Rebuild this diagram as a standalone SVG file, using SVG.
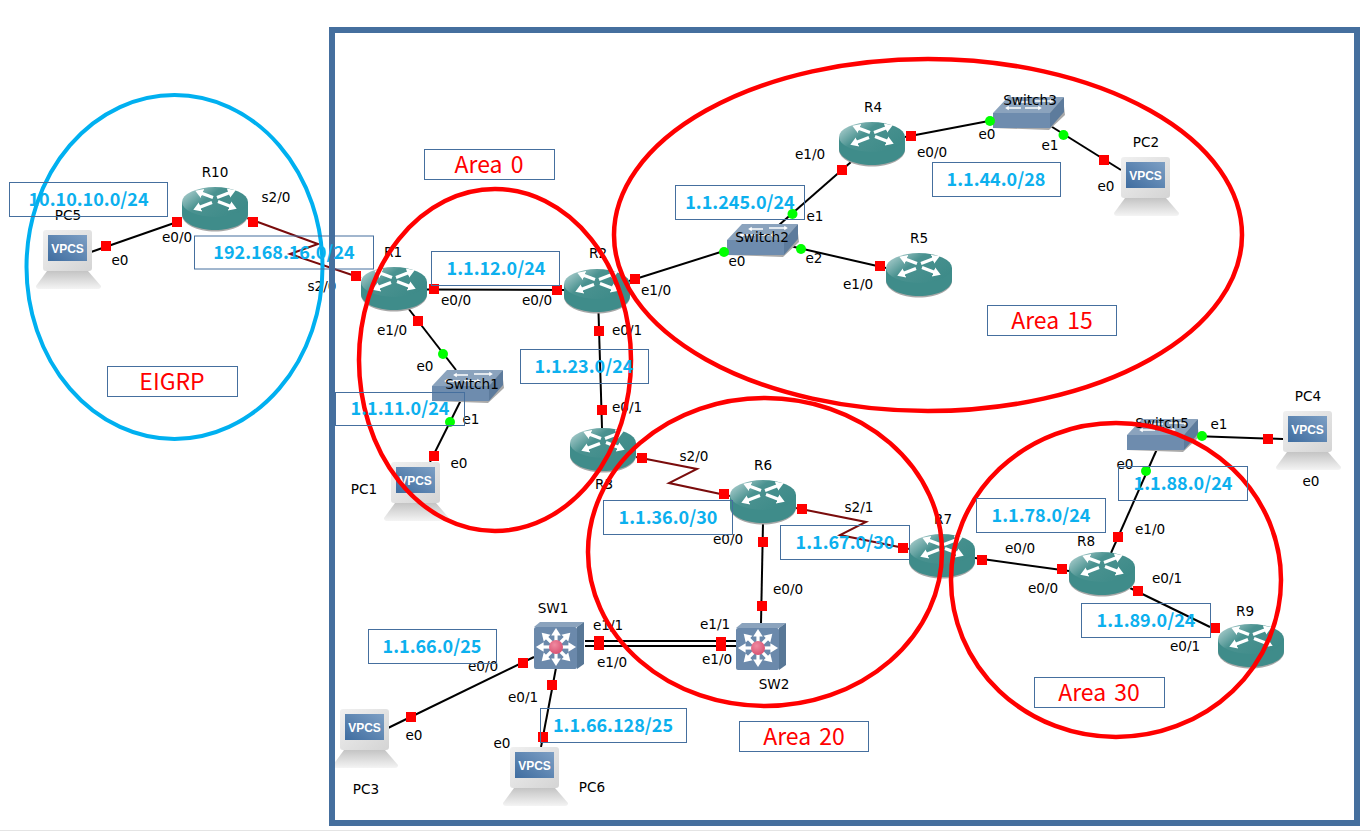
<svg xmlns="http://www.w3.org/2000/svg" width="1371" height="832" viewBox="0 0 1371 832">
<style>
text{font-family:"DejaVu Sans","Liberation Sans",sans-serif;font-size:13.6px;fill:#000;text-anchor:middle}
.lk{fill:none;stroke:#000;stroke-width:2}
.sr{fill:none;stroke:#7a0c0c;stroke-width:2}
.p{fill:#f00;stroke:none}
.g{fill:#0f0;stroke:none}
.area{fill:none;stroke:#f00;stroke-width:4.500}
.box{fill:none;stroke:#456f9e;stroke-width:1}
.net{font-family:"Noto Sans CJK KR","Noto Sans",sans-serif;font-size:18px;font-weight:700;fill:#0cb0ee}
.ttl{font-family:"Noto Sans CJK KR","Noto Sans",sans-serif;font-size:23px;word-spacing:3px;fill:#f00}
.vp{font-family:"Liberation Sans",sans-serif;font-weight:700;font-size:12px;fill:#fff}
.wa{fill:none;stroke:#fff;stroke-width:3.200}
.wt{fill:none;stroke:#fff;stroke-width:1.500}
</style>
<defs>
<linearGradient id="rt" x1="0" y1="0" x2="1" y2="0.6"><stop offset="0" stop-color="#c2dcdc"/><stop offset="0.45" stop-color="#4a9290"/><stop offset="1" stop-color="#3e8b89"/></linearGradient>
<linearGradient id="scr" x1="0" y1="1" x2="1" y2="0"><stop offset="0" stop-color="#3f6da0"/><stop offset="1" stop-color="#7d9fc4"/></linearGradient>
<linearGradient id="bs" x1="0" y1="0" x2="0" y2="1"><stop offset="0" stop-color="#c4c4c4"/><stop offset="1" stop-color="#f4f4f4"/></linearGradient>
<linearGradient id="mon" x1="0" y1="0" x2="1" y2="1"><stop offset="0" stop-color="#f0f0f0"/><stop offset="1" stop-color="#d4d4d4"/></linearGradient>
<radialGradient id="hub" cx="0.4" cy="0.35" r="0.7"><stop offset="0" stop-color="#f08aa0"/><stop offset="1" stop-color="#d84f70"/></radialGradient>
<marker id="ah" markerWidth="4" markerHeight="4" refX="0.500" refY="2" orient="auto" markerUnits="strokeWidth"><path d="M0 0.500L2.400 2L0 3.500z" fill="#fff"/></marker>
<symbol id="router" width="66" height="44" viewBox="0 0 66 44" overflow="visible">
<path d="M0 15V28C0 37 15 44.500 33 44.500S66 37 66 28V15z" fill="#a8a8a8"/>
<path d="M0 15V27C0 36 15 43 33 43S66 36 66 27V15z" fill="#3f8c8a"/>
<ellipse cx="33" cy="15" rx="33" ry="15" fill="url(#rt)"/>
<path class="wa" marker-end="url(#ah)" d="M31 10.500L19 6"/>
<path class="wa" marker-end="url(#ah)" d="M35 10.500L48 5.500"/>
<path class="wa" marker-end="url(#ah)" d="M30 15.500L17 20.500"/>
<path class="wa" marker-end="url(#ah)" d="M36 14.500L49 19.500"/>
</symbol>
<symbol id="switch" width="72" height="33" viewBox="0 0 72 33" overflow="visible">
<path d="M0 17L0 31L56 33L72 18L70 1z" fill="#a9a9a9"/>
<path d="M0 16L15 0H71L57 16z" fill="#8ba3bd"/>
<path d="M0 16H57V31H0z" fill="#6e8cae"/>
<path d="M57 16L71 0V15L57 31z" fill="#5d7b9c"/>
<path class="wt" marker-end="url(#ah)" d="M36 5H24"/><path class="wt" marker-end="url(#ah)" d="M42 4H58"/>
<path class="wt" marker-end="url(#ah)" d="M28 11H15"/><path class="wt" marker-end="url(#ah)" d="M32 11H46"/>
</symbol>
<symbol id="mls" width="51" height="48" viewBox="0 0 51 48" overflow="visible">
<path d="M0 5L6 0H50L43 5z" fill="#8ba3bd"/>
<path d="M43 5L50 0V42L43 47z" fill="#587796"/>
<rect x="0" y="5" width="43" height="42" rx="2" fill="#6b89ab"/>
<path class="wa" marker-end="url(#ah)" d="M22 25V12"/><path class="wa" marker-end="url(#ah)" d="M22 25V38"/>
<path class="wa" marker-end="url(#ah)" d="M22 25H8"/><path class="wa" marker-end="url(#ah)" d="M22 25H36"/>
<path class="wa" marker-end="url(#ah)" d="M22 25L12 15"/><path class="wa" marker-end="url(#ah)" d="M22 25L32 15"/>
<path class="wa" marker-end="url(#ah)" d="M22 25L12 35"/><path class="wa" marker-end="url(#ah)" d="M22 25L32 35"/>
<circle cx="22" cy="25" r="7" fill="url(#hub)"/>
</symbol>
<symbol id="vpcs" width="65" height="59" viewBox="0 0 65 59" overflow="visible">
<path d="M11 41H52L65 56Q65 59 62 59H3Q0 59 0 56z" fill="url(#bs)"/>
<rect x="7" y="0" width="49" height="41" rx="3" fill="url(#mon)"/>
<rect x="12" y="5" width="39" height="26" fill="url(#scr)"/>
<text class="vp" x="31.500" y="23">VPCS</text>
</symbol>
</defs>
<rect width="1371" height="832" fill="#fff"/>
<path d="M0 830.500H1371" stroke="#e4e4e4"/>

<g id="connectors">
<path class="lk" d="M91 252L180 221"/>
<path class="sr" d="M247 218L318 244L290 254L361 278"/>
<path class="lk" d="M427 289.500L564 290"/>
<path class="lk" d="M408 308L456 370"/>
<path class="lk" d="M461 400L430 462"/>
<path class="lk" d="M598.500 312L602 428"/>
<path class="lk" d="M629 281L727 250"/>
<path class="lk" d="M779 225L851 162"/>
<path class="lk" d="M790 246L886 268"/>
<path class="lk" d="M905 137L994 120"/>
<path class="lk" d="M1049 125L1121 170"/>
<path class="sr" d="M636 457L697 469L669 483L730 496"/>
<path class="sr" d="M796 508L866 522L840 535L909 549"/>
<path class="lk" d="M763 523L761 623"/>
<path class="lk" d="M585 641H736M585 646H736"/>
<path class="lk" d="M534 657L388 728"/>
<path class="lk" d="M556 668L541 747"/>
<path class="lk" d="M975 558L1069 571"/>
<path class="lk" d="M1111 553L1157 449"/>
<path class="lk" d="M1130 588L1210 627"/>
<path class="lk" d="M1193 436L1283 439"/>
</g>

<g id="R10"><use href="#router" x="182" y="187"/><text x="215" y="177">R10</text></g>
<g id="R1"><use href="#router" x="361" y="267"/><text x="393" y="257">R1</text></g>
<g id="R2"><use href="#router" x="564" y="269"/><text x="598" y="258">R2</text></g>
<g id="R3"><use href="#router" x="570" y="428"/><text x="604" y="489">R3</text></g>
<g id="R4"><use href="#router" x="839" y="122"/><text x="873" y="112">R4</text></g>
<g id="R5"><use href="#router" x="886" y="253"/><text x="919" y="243">R5</text></g>
<g id="R6"><use href="#router" x="730" y="480"/><text x="763" y="470">R6</text></g>
<g id="R7"><use href="#router" x="909" y="534"/><text x="943" y="524">R7</text></g>
<g id="R8"><use href="#router" x="1069" y="552"/><text x="1086" y="546">R8</text></g>
<g id="R9"><use href="#router" x="1218" y="624"/><text x="1245" y="616">R9</text></g>
<g id="Switch1"><use href="#switch" x="432" y="370"/><text x="472" y="389">Switch1</text></g>
<g id="Switch2"><use href="#switch" x="727" y="224"/><text x="762" y="242">Switch2</text></g>
<g id="Switch3"><use href="#switch" x="993" y="97"/><text x="1030" y="105">Switch3</text></g>
<g id="Switch5"><use href="#switch" x="1127" y="419"/><text x="1162" y="428">Switch5</text></g>
<g id="SW1"><use href="#mls" x="534" y="622"/><text x="553" y="613">SW1</text></g>
<g id="SW2"><use href="#mls" x="736" y="623"/><text x="774" y="689">SW2</text></g>
<g id="PC1"><use href="#vpcs" x="384" y="462"/><text x="364" y="494">PC1</text></g>
<g id="PC2"><use href="#vpcs" x="1114" y="157"/><text x="1146" y="147">PC2</text></g>
<g id="PC3"><use href="#vpcs" x="333" y="709"/><text x="366" y="794">PC3</text></g>
<g id="PC4"><use href="#vpcs" x="1276" y="411"/><text x="1308" y="401">PC4</text></g>
<g id="PC5"><use href="#vpcs" x="36" y="230"/><text x="68" y="220">PC5</text></g>
<g id="PC6"><use href="#vpcs" x="503" y="747"/><text x="592" y="792">PC6</text></g>

<g id="ports">
<rect class="p" x="101" y="241" width="10" height="10"/><rect class="p" x="172" y="217" width="10" height="10"/>
<rect class="p" x="248" y="217" width="10" height="10"/><rect class="p" x="351" y="271" width="10" height="10"/>
<rect class="p" x="429" y="284" width="10" height="10"/><rect class="p" x="413" y="316" width="10" height="10"/>
<rect class="p" x="429" y="451" width="10" height="10"/><rect class="p" x="552" y="285" width="10" height="10"/>
<rect class="p" x="630" y="274" width="10" height="10"/><rect class="p" x="594" y="326" width="10" height="10"/>
<rect class="p" x="597" y="405" width="10" height="10"/><rect class="p" x="637" y="453" width="10" height="10"/>
<rect class="p" x="719" y="489" width="10" height="10"/><rect class="p" x="797" y="504" width="10" height="10"/>
<rect class="p" x="898" y="543" width="10" height="10"/><rect class="p" x="758" y="537" width="10" height="10"/>
<rect class="p" x="757" y="601" width="10" height="10"/><rect class="p" x="594" y="636" width="10" height="10"/>
<rect class="p" x="594" y="640" width="10" height="10"/><rect class="p" x="716" y="637" width="10" height="10"/>
<rect class="p" x="716" y="641" width="10" height="10"/><rect class="p" x="518" y="658" width="10" height="10"/>
<rect class="p" x="406" y="712" width="10" height="10"/><rect class="p" x="547" y="680" width="10" height="10"/>
<rect class="p" x="538" y="732" width="10" height="10"/><rect class="p" x="875" y="261" width="10" height="10"/>
<rect class="p" x="837" y="165" width="10" height="10"/><rect class="p" x="906" y="131" width="10" height="10"/>
<rect class="p" x="1099" y="155" width="10" height="10"/><rect class="p" x="977" y="555" width="10" height="10"/>
<rect class="p" x="1057" y="564" width="10" height="10"/><rect class="p" x="1113" y="532" width="10" height="10"/>
<rect class="p" x="1133" y="586" width="10" height="10"/><rect class="p" x="1210" y="623" width="10" height="10"/>
<rect class="p" x="1263" y="434" width="10" height="10"/>
<circle class="g" cx="443" cy="354" r="5"/><circle class="g" cx="450" cy="422" r="5"/>
<circle class="g" cx="724" cy="252" r="5"/><circle class="g" cx="792.500" cy="214" r="5"/>
<circle class="g" cx="801" cy="249" r="5"/><circle class="g" cx="990" cy="121" r="5"/>
<circle class="g" cx="1063.500" cy="135" r="5"/><circle class="g" cx="1146" cy="471" r="5"/>
<circle class="g" cx="1202" cy="436" r="5"/>
</g>

<g id="port-labels">
<text x="276" y="202">s2/0</text><text x="177" y="242">e0/0</text><text x="120" y="265">e0</text>
<text x="322" y="291">s2/0</text><text x="456" y="305">e0/0</text><text x="392" y="335">e1/0</text>
<text x="425" y="371">e0</text><text x="471" y="424">e1</text><text x="459" y="468">e0</text>
<text x="537" y="305">e0/0</text><text x="656" y="295">e1/0</text><text x="627" y="335">e0/1</text>
<text x="627" y="412">e0/1</text><text x="694" y="461">s2/0</text><text x="859" y="512">s2/1</text>
<text x="728" y="544">e0/0</text><text x="788" y="594">e0/0</text><text x="608" y="630">e1/1</text>
<text x="612" y="667">e1/0</text><text x="715" y="629">e1/1</text><text x="717" y="664">e1/0</text>
<text x="483" y="671">e0/0</text><text x="523" y="702">e0/1</text><text x="414" y="740">e0</text>
<text x="502" y="748">e0</text><text x="987" y="139">e0</text><text x="1050" y="150">e1</text>
<text x="1106" y="191">e0</text><text x="810" y="159">e1/0</text><text x="932" y="157">e0/0</text>
<text x="815" y="221">e1</text><text x="737" y="266">e0</text><text x="814" y="263">e2</text>
<text x="858" y="289">e1/0</text><text x="1219" y="429">e1</text><text x="1311" y="486">e0</text>
<text x="1125" y="469">e0</text><text x="1020" y="553">e0/0</text><text x="1150" y="534">e1/0</text>
<text x="1043" y="593">e0/0</text><text x="1167" y="583">e0/1</text><text x="1185" y="651">e0/1</text>
</g>

<g id="areas">
<ellipse cx="174.500" cy="267" rx="148" ry="172" fill="none" stroke="#00b0f0" stroke-width="4"/>
<ellipse class="area" cx="495" cy="360" rx="136" ry="171"/>
<ellipse class="area" cx="928" cy="235" rx="314" ry="176"/>
<ellipse class="area" cx="765" cy="552" rx="177" ry="154"/>
<ellipse class="area" cx="1116" cy="580" rx="165" ry="157"/>
</g>
<rect id="frame" x="332" y="30" width="1025" height="793" fill="none" stroke="#456f9e" stroke-width="6"/>

<g id="labels">
<rect class="box" x="9.500" y="182.500" width="158" height="34"/><text class="net" x="88.500" y="206">10.10.10.0/24</text>
<rect class="box" x="194.500" y="236" width="179" height="33"/><text class="net" x="284" y="259">192.168.16.0/24</text>
<rect class="box" x="431.500" y="251.500" width="128" height="34"/><text class="net" x="496" y="275">1.1.12.0/24</text>
<rect class="box" x="335.500" y="392.500" width="129" height="33"/><text class="net" x="400" y="415">1.1.11.0/24</text>
<rect class="box" x="520.500" y="349.500" width="128" height="34"/><text class="net" x="584" y="373">1.1.23.0/24</text>
<rect class="box" x="603.500" y="500.500" width="129" height="34"/><text class="net" x="668" y="524">1.1.36.0/30</text>
<rect class="box" x="780.500" y="525.500" width="129" height="34"/><text class="net" x="845" y="549">1.1.67.0/30</text>
<rect class="box" x="368.500" y="629.500" width="128" height="34"/><text class="net" x="432" y="653">1.1.66.0/25</text>
<rect class="box" x="540.500" y="708.500" width="146" height="34"/><text class="net" x="613" y="732">1.1.66.128/25</text>
<rect class="box" x="675.500" y="185.500" width="129" height="34"/><text class="net" x="740" y="209">1.1.245.0/24</text>
<rect class="box" x="932.500" y="162.500" width="128" height="34"/><text class="net" x="996" y="186">1.1.44.0/28</text>
<rect class="box" x="976.500" y="498.500" width="129" height="34"/><text class="net" x="1041" y="522">1.1.78.0/24</text>
<rect class="box" x="1118.500" y="466.500" width="129" height="34"/><text class="net" x="1183" y="490">1.1.88.0/24</text>
<rect class="box" x="1081.500" y="603.500" width="129" height="34"/><text class="net" x="1146" y="627">1.1.89.0/24</text>
<rect class="box" x="424.500" y="149.500" width="130" height="30"/><text class="ttl" x="489" y="173">Area 0</text>
<rect class="box" x="987.500" y="305.500" width="129" height="30"/><text class="ttl" x="1052" y="329">Area 15</text>
<rect class="box" x="739.500" y="721.500" width="129" height="30"/><text class="ttl" x="804" y="745">Area 20</text>
<rect class="box" x="1034.500" y="677.500" width="130" height="30"/><text class="ttl" x="1099" y="701">Area 30</text>
<rect class="box" x="107.500" y="366.500" width="130" height="30"/><text class="ttl" x="172" y="390">EIGRP</text>
</g>
</svg>
